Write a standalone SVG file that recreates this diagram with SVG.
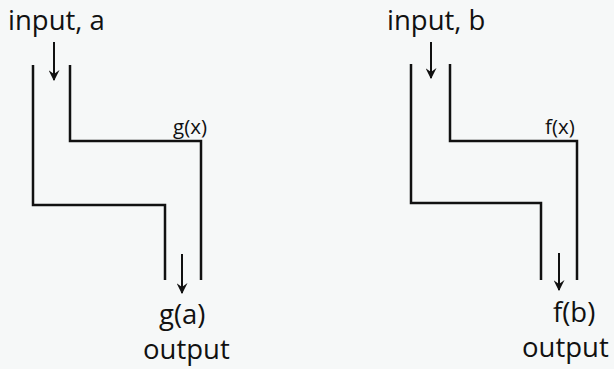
<svg xmlns="http://www.w3.org/2000/svg" width="614" height="369" viewBox="0 0 614 369">
<defs>
<marker id="ah" viewBox="0 0 10 10" refX="9" refY="5" markerWidth="11" markerHeight="11" markerUnits="userSpaceOnUse" orient="auto">
<path d="M0,0 L10,5 L0,10 L3.5,5 Z" fill="#111"/>
</marker>
<style>
.wall{fill:none;stroke:#111;stroke-width:2.5;stroke-linejoin:miter}
.flow{fill:none;stroke:#111;stroke-width:2}
.big{font-family:"Open Sans","Noto Sans",sans-serif;font-size:27.5px;fill:#111}
.small{font-family:"Open Sans","Noto Sans",sans-serif;font-size:20.5px;fill:#111}
</style>
</defs>
<rect width="614" height="369" fill="#f6f8f8"/>
<g id="node-g">
<polyline class="wall" points="33,65 33,205 165,205 165,280"/>
<polyline class="wall" points="70,65 70,141 201,141 201,280"/>
<text class="small" x="173" y="134">g(x)</text>
</g>
<g id="node-f">
<polyline class="wall" points="411,64 411,203 541,203 541,280"/>
<polyline class="wall" points="450,64 450,141 577,141 577,280"/>
<text class="small" x="545" y="134">f(x)</text>
</g>
<g id="node-input-a"><text class="big" x="8" y="30">input, a</text></g>
<g id="node-input-b"><text class="big" x="387" y="30">input, b</text></g>
<g id="node-output-a"><text class="big" x="159" y="324">g(a)</text><text class="big" x="143" y="359">output</text></g>
<g id="node-output-b"><text class="big" x="553" y="322">f(b)</text><text class="big" x="522" y="357">output</text></g>
<g id="connectors">
<line class="flow" x1="54" y1="42" x2="54" y2="80" marker-end="url(#ah)"/>
<line class="flow" x1="182" y1="254" x2="182" y2="293" marker-end="url(#ah)"/>
<line class="flow" x1="431" y1="42" x2="431" y2="78" marker-end="url(#ah)"/>
<line class="flow" x1="559" y1="253" x2="559" y2="290" marker-end="url(#ah)"/>
</g>
</svg>
